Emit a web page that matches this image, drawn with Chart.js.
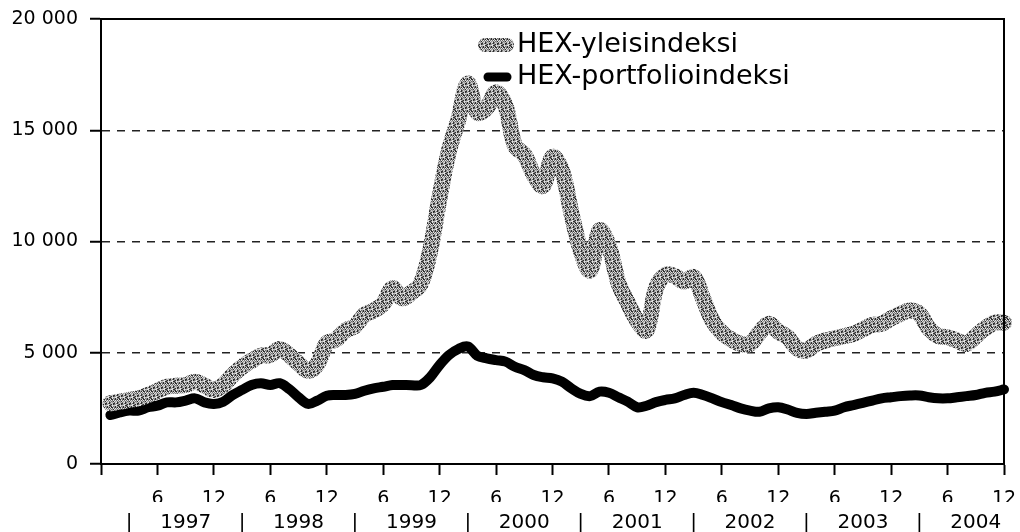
<!DOCTYPE html>
<html>
<head>
<meta charset="utf-8">
<script src="https://cdn.jsdelivr.net/npm/chart.js@4.4.1/dist/chart.umd.min.js"></script>
<style>
  html, body { margin: 0; padding: 0; background: #fff; }
  #wrap { width: 1020px; height: 532px; }
</style>
</head>
<body>
<div id="wrap"><canvas id="hexChart"></canvas></div>
<script>
// HEX-indeksit kuukausittain 1997-2004

const years = ['1997', '1998', '1999', '2000', '2001', '2002', '2003', '2004'];
const monthTicks = ['6', '12'];
const seriesNames = ['HEX-yleisindeksi', 'HEX-portfolioindeksi'];

const yleisindeksi = [
    2730, 2800, 2880, 2950, 3100, 3290, 3470, 3520, 3550, 3700, 3520, 3330,      // 1997
    3550, 4000, 4370, 4640, 4870, 4900, 5170, 4900, 4520, 4190, 4490, 5420,      // 1998
    5600, 6000, 6200, 6700, 6900, 7200, 7900, 7450, 7700, 8100, 9600, 12000,     // 1999
    14100, 15500, 17100, 15800, 16000, 16700, 16100, 14300, 13900, 13000, 12500, 13800, // 2000
    13200, 11300, 9600, 8700, 10500, 9800, 8150, 7250, 6450, 6000, 7900, 8500,   // 2001
    8450, 8200, 8400, 7450, 6450, 5900, 5600, 5400, 5400, 5900, 6300, 5950,      // 2002
    5700, 5200, 5100, 5400, 5550, 5650, 5750, 5850, 6050, 6250, 6300, 6550,      // 2003
    6750, 6900, 6750, 6100, 5750, 5700, 5550, 5400, 5750, 6100, 6350, 6350       // 2004
];

const portfolioindeksi = [
    2200, 2320, 2400, 2400, 2550, 2620, 2770, 2770, 2850, 2950, 2770, 2700,      // 1997
    2800, 3100, 3330, 3550, 3630, 3550, 3630, 3370, 3000, 2700, 2850, 3070,      // 1998
    3100, 3100, 3150, 3290, 3400, 3470, 3550, 3550, 3540, 3550, 3900, 4450,      // 1999
    4900, 5170, 5280, 4870, 4750, 4670, 4600, 4370, 4220, 4000, 3900, 3850,      // 2000
    3700, 3400, 3150, 3050, 3250, 3200, 3000, 2800, 2550, 2620, 2780, 2880,      // 2001
    2950, 3100, 3200, 3100, 2950, 2780, 2650, 2500, 2400, 2350, 2500, 2550,      // 2002
    2450, 2300, 2250, 2300, 2350, 2400, 2550, 2650, 2750, 2850, 2950, 3000,      // 2003
    3050, 3080, 3080, 3000, 2950, 2950, 3000, 3050, 3100, 3200, 3250, 3350       // 2004
];

// month number 1..96 along the x axis
const months = yleisindeksi.map((v, i) => i + 1);

const FONT = 'DejaVu Sans';

function thousands(v) {
    return String(v).replace(/\B(?=(\d{3})+(?!\d))/g, ' ');
}

// dithered gray like the printed original (fixed 8x8 tile)
function grayTexture(ctx) {
    const c = document.createElement('canvas');
    c.width = 8; c.height = 8;
    const g = c.getContext('2d');
    const shades = ['#2e2e2e', '#6e6e6e', '#9c9c9c', '#c4c4c4', '#e2e2e2'];
    for (let y = 0; y < 8; y++) {
        for (let x = 0; x < 8; x++) {
            const k = ((x * 5 + y * 3) ^ (x * y + 1)) % 5;
            g.fillStyle = shades[k];
            g.fillRect(x, y, 1, 1);
        }
    }
    return ctx.createPattern(c, 'repeat');
}

// let layout.padding alone decide where the plot box sits
function noOverhang(s) {
    s.paddingTop = 0;
    s.paddingBottom = 0;
    s.paddingLeft = 0;
    s.paddingRight = 0;
}

// solid frame round the plot
const frame = {
    id: 'frame',
    afterDatasetsDraw(chart) {
        const { ctx, chartArea: a } = chart;
        ctx.save();
        ctx.strokeStyle = '#000';
        ctx.lineWidth = 2;
        ctx.strokeRect(a.left, a.top, a.right - a.left, a.bottom - a.top);
        ctx.restore();
    }
};

// legend stacked inside the plot
const legendBox = {
    id: 'legendBox',
    afterDatasetsDraw(chart) {
        const { ctx, chartArea: a } = chart;
        ctx.save();
        ctx.font = '27px "' + FONT + '"';
        ctx.textBaseline = 'middle';
        ctx.fillStyle = '#000';
        ctx.lineCap = 'round';
        chart.data.datasets.forEach((ds, i) => {
            const y = a.top + 26 + i * 32;
            const x = a.left + 384;
            ctx.strokeStyle = ds.borderColor;
            ctx.lineWidth = i === 0 ? 14 : 9;
            ctx.beginPath();
            ctx.moveTo(x + (i === 0 ? 0 : 3), y);
            ctx.lineTo(x + 22, y);
            ctx.stroke();
            ctx.fillText(ds.label, x + 32, y);
        });
        ctx.restore();
    }
};

const canvas = document.getElementById('hexChart');
const ctx = canvas.getContext('2d');
const texture = grayTexture(ctx);

new Chart(ctx, {
    type: 'line',
    data: {
        labels: months,
        datasets: [
            {
                label: seriesNames[0],
                data: yleisindeksi,
                borderColor: texture,
                borderWidth: 16,
                borderCapStyle: 'round',
                borderJoinStyle: 'round',
                pointRadius: 0,
                tension: 0.35,
                clip: false
            },
            {
                label: seriesNames[1],
                data: portfolioindeksi,
                borderColor: '#000',
                borderWidth: 10,
                borderCapStyle: 'round',
                borderJoinStyle: 'round',
                pointRadius: 0,
                tension: 0.35,
                clip: false
            }
        ]
    },
    options: {
        responsive: true,
        maintainAspectRatio: false,
        animation: false,
        events: [],
        layout: { padding: { top: 19, right: 16, left: 0, bottom: 0 } },
        plugins: {
            legend: { display: false },
            tooltip: { enabled: false }
        },
        scales: {
            x: {
                type: 'linear',
                position: 'bottom',
                min: 0,
                max: years.length * 12,
                afterBuildTicks: s => {
                    const t = [];
                    for (let m = 0; m <= years.length * 12; m += 6) t.push({ value: m });
                    s.ticks = t;
                },
                ticks: {
                    autoSkip: false,
                    maxRotation: 0,
                    color: '#000',
                    padding: 13,
                    font: { family: FONT, size: 19 },
                    callback: v => v === 0 ? '' : monthTicks[(v / 6 - 1) % 2]
                },
                grid: {
                    drawOnChartArea: false,
                    tickLength: 11,
                    tickColor: '#000',
                    tickWidth: 2
                },
                border: { color: '#000', width: 2 },
                afterFit: s => { s.height = 38; noOverhang(s); }
            },
            x2: {
                type: 'linear',
                position: 'bottom',
                min: 0,
                max: years.length * 12,
                afterBuildTicks: s => {
                    const t = [];
                    for (let m = 3; m < years.length * 12; m += 6) t.push({ value: m });
                    s.ticks = t;
                },
                ticks: {
                    autoSkip: false,
                    maxRotation: 0,
                    color: '#000',
                    padding: 1,
                    font: { family: FONT, size: 20 },
                    callback: v => (v - 3) % 12 === 0 ? '|' : years[(v - 9) / 12]
                },
                grid: { display: false },
                border: { display: false },
                afterFit: s => { s.height = 30; noOverhang(s); }
            },
            y: {
                min: 0,
                max: 20000,
                ticks: {
                    stepSize: 5000,
                    color: '#000',
                    padding: 12,
                    font: { family: FONT, size: 19 },
                    callback: v => thousands(v)
                },
                grid: {
                    color: '#222',
                    lineWidth: 1.5,
                    tickLength: 11,
                    tickColor: '#000',
                    tickWidth: 2,
                    tickBorderDash: []
                },
                border: { color: '#000', width: 2, dash: [8, 7] },
                afterFit: s => { s.width = 101; noOverhang(s); }
            }
        }
    },
    plugins: [frame, legendBox]
});
</script>
</body>
</html>
